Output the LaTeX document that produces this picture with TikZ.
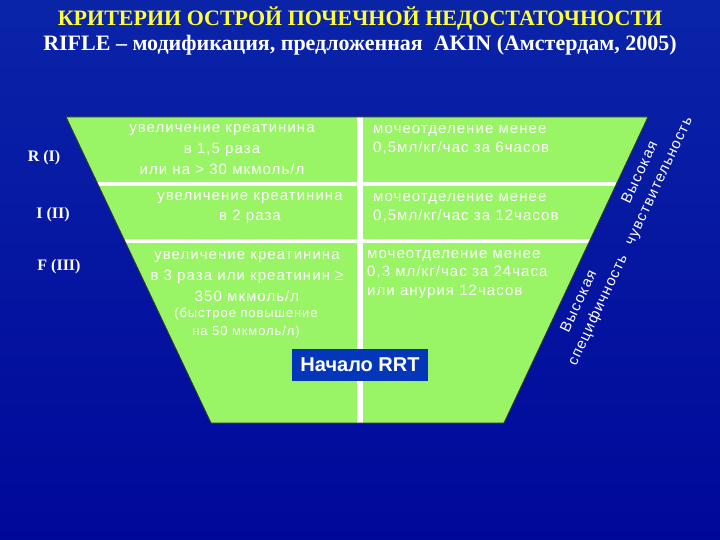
\documentclass[tikz,border=0pt]{standalone}
\usepackage{fontspec}
\setmainfont{Liberation Serif}
\newfontfamily\cellfont[LetterSpace=7]{Liberation Sans}
\newfontfamily\boxfont{Liberation Sans}
\usetikzlibrary{calc}
\definecolor{bgtop}{HTML}{0A24A8}
\definecolor{bgmid}{HTML}{1A8CF8}
\definecolor{bgbot}{HTML}{00089A}
\definecolor{funnel}{HTML}{99F566}
\definecolor{titlecol}{HTML}{FFFF33}
\definecolor{rrtbox}{HTML}{0336B8}
\tikzset{
  edge/.style={draw=black!80, line width=0.9pt},
  sepline/.style={draw=white, line width=4pt},
  divline/.style={draw=white, line width=6pt},
  cell/.style={text=white, font=\cellfont\fontsize{15}{21}\selectfont, inner sep=0pt, align=center},
  cellleft/.style={cell, align=left, anchor=west},
  grade/.style={text=white, font=\bfseries\fontsize{16}{18}\selectfont},
  side/.style={text=white, font=\cellfont\fontsize{15}{21}\selectfont, rotate=64.8, align=center, inner sep=0pt},
  hdr/.style={font=\bfseries\fontsize{22}{26}\selectfont, inner sep=0pt}
}

\begin{document}
\begin{tikzpicture}[x=1pt, y=-1pt]
  \useasboundingbox (0,0) rectangle (720,540);
  \shade[top color=bgtop, middle color=bgmid, bottom color=bgbot] (0,0) rectangle (720,540);

  \coordinate (TL) at (66,117);
  \coordinate (TR) at (648,117);
  \coordinate (BR) at (504,423);
  \coordinate (BL) at (211,423);

  % funnel
  \fill[funnel] (TL) -- (TR) -- (BR) -- (BL) -- cycle;
  \begin{scope}
    \clip (TL) -- (TR) -- (BR) -- (BL) -- cycle;
    \draw[sepline] ($(TL)!0.219!(BL)$) -- ($(TR)!0.219!(BR)$);
    \draw[sepline] ($(TL)!0.405!(BL)$) -- ($(TR)!0.405!(BR)$);
    \draw[divline] (360,117) -- (360,423);
  \end{scope}
  \draw[edge] (TL) -- (TR) -- (BR) -- (BL) -- cycle;

  \node[hdr, text=titlecol] (head) at (360,18) {КРИТЕРИИ ОСТРОЙ ПОЧЕЧНОЙ НЕДОСТАТОЧНОСТИ};
  \node[hdr, text=white] (sub) at (360,45) {RIFLE – модификация, предложенная\ \ AKIN (Амстердам, 2005)};

  \node[grade] (gr) at (44,158) {R (I)};
  \node[grade] (gi) at (53,215) {I (II)};
  \node[grade] (gf) at (59,267) {F (III)};

  \node[cell] (rcrea) at (222,149.5) {увеличение креатинина\\в 1,5 раза\\или на > 30 мкмоль/л};
  \node[cell, font=\cellfont\fontsize{15}{20}\selectfont] (icrea) at (250,208) {увеличение креатинина\\в 2 раза};
  \node[cell] (fcrea) at (247,277) {увеличение креатинина\\в 3 раза или креатинин ≥\\350 мкмоль/л};
  \node[cell, font=\cellfont\fontsize{13}{18}\selectfont] (fnote) at (246,323) {(быстрое повышение\\на 50 мкмоль/л)};

  \node[cellleft, font=\cellfont\fontsize{15}{19}\selectfont] (rurine) at (373,139.5) {мочеотделение менее\\0,5мл/кг/час за 6часов};
  \node[cellleft, font=\cellfont\fontsize{15}{19}\selectfont] (iurine) at (373,207.5) {мочеотделение менее\\0,5мл/кг/час за 12часов};
  \node[cellleft, font=\cellfont\fontsize{15}{18.5}\selectfont] (furine) at (367,274.5) {мочеотделение менее\\0,3 мл/кг/час за 24часа\\или анурия 12часов};

  \node[fill=rrtbox, text=white, font=\boxfont\bfseries\fontsize{20}{22}\selectfont,
        minimum width=136pt, minimum height=32pt, inner sep=0pt] (rrt) at (360,365) {Начало RRT};

  \node[side] (sens) at (650,177) {Высокая\\чувствительность};
  \node[side] (spec) at (589,306) {Высокая\\специфичность};
\end{tikzpicture}
\end{document}
